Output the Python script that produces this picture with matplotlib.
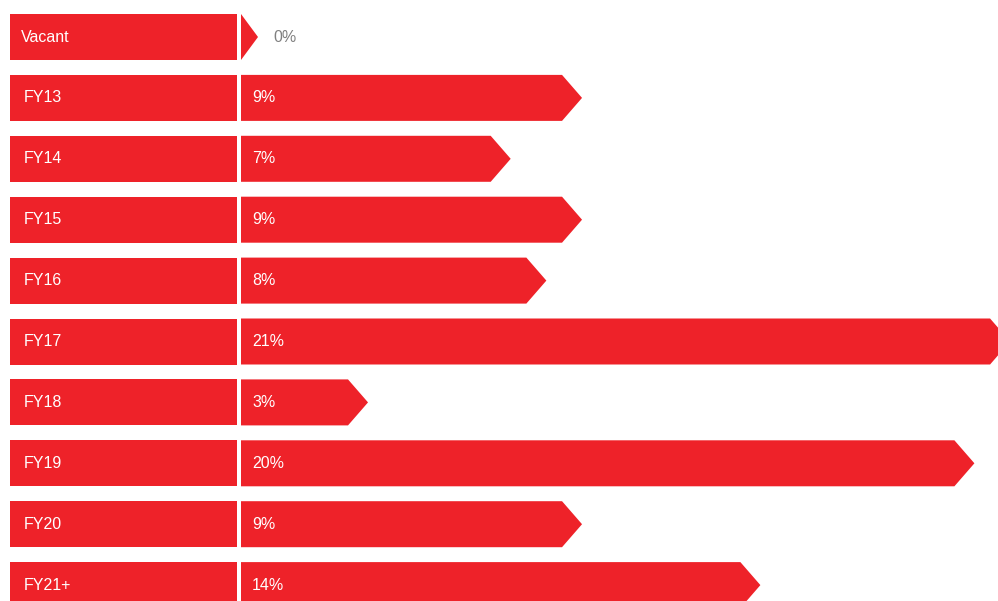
import matplotlib
matplotlib.use('Agg')
import matplotlib.pyplot as plt
from matplotlib.patches import Polygon, Rectangle

# Lease expiry profile by fiscal year (% of portfolio)
categories = ['Vacant', 'FY13', 'FY14', 'FY15', 'FY16', 'FY17', 'FY18', 'FY19', 'FY20', 'FY21+']
values = [0, 9, 7, 9, 8, 21, 3, 20, 9, 14]

RED = '#EE2229'
GREY = '#808080'

W, H = 998, 601
plt.rcParams['font.family'] = ['Liberation Sans', 'DejaVu Sans']

fig = plt.figure(figsize=(W / 100, H / 100), dpi=100)

# row geometry (rows are drawn top to bottom, centre of row i at y=i)
pitch = 60.9
row_h = 46 / pitch
y_top = -37 / pitch
y_bot = (H - 37) / pitch

# left column: category boxes
ax_lab = fig.add_axes([10 / W, 0, (237 - 10) / W, 1])
ax_lab.set_xlim(0, 1)
ax_lab.set_ylim(y_bot, y_top)
ax_lab.axis('off')

# right column: arrow bars, x in percent
px_per_pct = 35.67
bar_left = 241
ax = fig.add_axes([bar_left / W, 0, (W - bar_left) / W, 1])
ax.set_xlim(0, (W - bar_left) / px_per_pct)
ax.set_ylim(y_bot, y_top)
ax.axis('off')

tip = 20 / px_per_pct

for i, (cat, v) in enumerate(zip(categories, values)):
    top, bot = i - row_h / 2, i + row_h / 2
    ax_lab.add_patch(Rectangle((0, top), 1, row_h, facecolor=RED, edgecolor='none'))
    ax_lab.text(11 / 227 if cat == 'Vacant' else 14 / 227, i, cat, color='white',
                fontsize=11.5, va='center', ha='left')

    # empty rows only get the arrow head
    t = tip if v > 0 else 17 / px_per_pct
    pts = [(0, top), (v, top), (v + t, i), (v, bot), (0, bot)]
    ax.add_patch(Polygon(pts, closed=True, facecolor=RED, edgecolor='none'))
    if v == 0:
        ax.text(v + t + 15 / px_per_pct, i, f'{v}%', color=GREY,
                fontsize=11.5, va='center', ha='left')
    else:
        ax.text(11 / px_per_pct, i, f'{v}%', color='white',
                fontsize=11.5, va='center', ha='left')

fig.savefig('out.png', dpi=100, facecolor='white')
